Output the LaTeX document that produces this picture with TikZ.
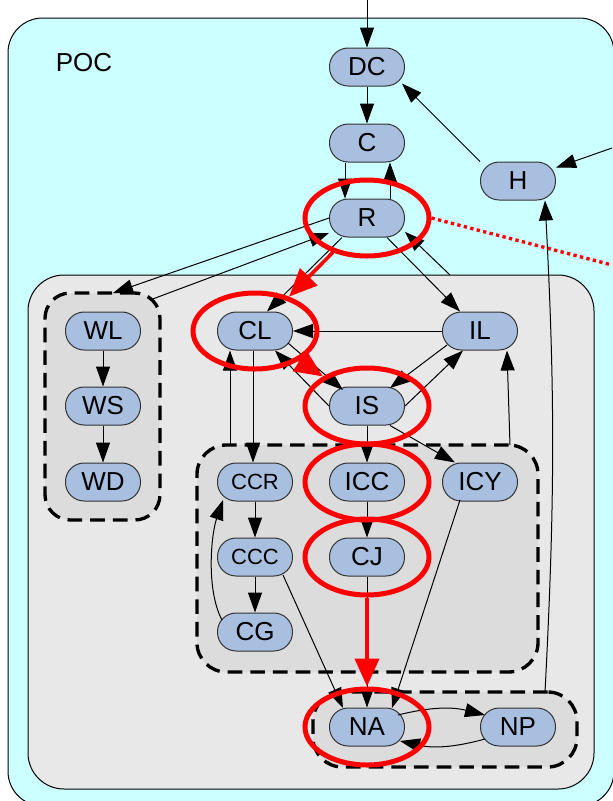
\documentclass[tikz,border=0pt]{standalone}
\usepackage{fontspec}
\setmainfont{Liberation Sans}
\usetikzlibrary{arrows.meta,shapes.geometric,calc}

\definecolor{pocbg}{RGB}{204,255,255}
\definecolor{outerbg}{RGB}{232,232,232}
\definecolor{grpbg}{RGB}{220,220,220}
\definecolor{nodebg}{RGB}{169,191,223}

\tikzset{
  state/.style={draw=black!80, line width=0.75pt, fill=nodebg, rounded corners=14pt,
    minimum width=56.25pt, minimum height=28.5pt, inner sep=0pt,
    font=\fontsize{19.5}{20}\selectfont},
  smalltext/.style={font=\fontsize{16.5}{17}\selectfont},
  edge/.style={line width=0.75pt, -{Triangle[length=15pt,width=10.5pt]}},
  grp/.style={draw, dashed, line width=2.5pt, dash pattern=on 11pt off 6pt,
    fill=grpbg, rounded corners=19pt, inner sep=0pt},
  hl/.style={draw=red, ellipse, line width=3.75pt, minimum width=93pt, minimum height=57pt, inner sep=0pt},
  hlarrow/.style={draw=red, line width=2.75pt, -{Triangle[length=21pt,width=18pt]}},
}

\begin{document}
\begin{tikzpicture}[x=0.75pt,y=-0.75pt]
\useasboundingbox (0,0) rectangle (612,801);

% containers
\draw[fill=pocbg, line width=0.75pt, rounded corners=26pt] (8,18) rectangle (614,806);
\node[anchor=center, font=\fontsize{19.5}{20}\selectfont] (poc) at (84,63) {POC};
\draw[fill=outerbg, line width=0.75pt, rounded corners=27pt] (28,275) rectangle (594,789);

% dashed groups
\node[grp, minimum width=86.25pt, minimum height=170.25pt] (gW) at (102.5,406.5) {};
\node[grp, minimum width=255.75pt, minimum height=170.25pt, rounded corners=22pt] (gC) at (367.5,558.5) {};
\node[grp, minimum width=198pt, minimum height=56.25pt, rounded corners=22pt] (gN) at (445,729.5) {};

% states
\node[state] (DC) at (367,67) {DC};
\node[state] (C) at (367,143) {C};
\node[state] (R) at (367,218) {R};
\node[state] (H) at (518,181) {H};
\node[state] (CL) at (255,331) {CL};
\node[state] (IL) at (480,331) {IL};
\node[state] (IS) at (367,406) {IS};
\node[state, smalltext] (CCR) at (255,482) {CCR};
\node[state] (ICC) at (367,482) {ICC};
\node[state] (ICY) at (480,482) {ICY};
\node[state, smalltext] (CCC) at (255,557) {CCC};
\node[state] (CJ) at (367,557) {CJ};
\node[state] (CG) at (255,632) {CG};
\node[state] (NA) at (367,727) {NA};
\node[state] (NP) at (518,727) {NP};
\node[state] (WL) at (103,331) {WL};
\node[state] (WS) at (103,406) {WS};
\node[state] (WD) at (103,482) {WD};

% loose ends
\coordinate (topin) at (367,0);
\coordinate (extH) at (612,148);
\coordinate (gWtop) at (113,293);
\coordinate (gWcorner) at (150,300);
\coordinate (grayTop) at (450,275);
\coordinate (gCleft) at (230,445);
\coordinate (gCright) at (510,445);
\coordinate (gNtop) at (545,692);
\coordinate (dotEnd) at (612,265);

% transitions
\draw[edge] (topin) -- (DC);
\draw[edge] (DC) -- (C);
\draw[edge] ($(C.south)+(-22,0)$) -- ($(R.north)+(-22,0)$);
\draw[edge] ($(R.north)+(23,0)$) -- ($(C.south)+(23,0)$);
\draw[edge] (extH) -- (H);
\draw[edge] (H.north west) -- ($(DC.south east)+(-3,-3)$);
\draw[edge] (gNtop) to[bend right=3] ($(H.south)+(27,0)$);

\draw[edge] (R.west) -- (gWtop);
\draw[edge] (gWcorner) -- ($(R.west)+(0,15)$);
\draw[edge] ($(R.south)+(20,0)$) -- ($(IL.north)+(-20,0)$);
\draw[edge] (grayTop) -- (R.-20);
\draw[edge] ($(R.south)+(-25,0)$) -- ($(CL.north)+(12,0)$);

\draw[edge] (IL) -- (CL);
\draw[edge] ($(IL)+(-33,14)$) -- ($(IS)+(23,-18)$);
\draw[edge] (IS.east) -- ($(IL.south)+(-17,0)$);
\draw[edge] ($(CL)+(33,12)$) -- ($(IS)+(-24,-16)$);
\draw[edge] (IS.west) -- ($(CL.south)+(20,0)$);

\draw[edge] (IS) -- (ICC);
\draw[edge] ($(IS.south)+(23,0)$) -- ($(ICY.north)+(-25,0)$);
\draw[edge] ($(CL.south)+(-2,0)$) -- ($(CCR.north)+(-2,0)$);
\draw[edge] (gCleft) -- ($(CL.south)+(-25,0)$);
\draw[edge] (gCright) -- ($(IL.south)+(27,0)$);

\draw[edge] (ICC) -- (CJ);
\draw[edge] (CCR) -- (CCC);
\draw[edge] (CCC) -- (CG);
\draw[edge] ($(CG)+(-33,-12)$) .. controls +(-16,-30) and +(-12,35) .. ($(CCR)+(-32,18)$);
\draw[edge] ($(CCC)+(28,18)$) -- ($(NA)+(-24,-19)$);
\draw[edge] ($(ICY)+(-20,18)$) -- ($(NA)+(25,-19)$);
\draw[edge] (CJ) -- (NA);
\draw[edge] ($(NA)+(31,-12)$) to[bend left=14] ($(NP)+(-33,-12)$);
\draw[edge] ($(NP)+(-33,12)$) to[bend left=14] ($(NA)+(33,14)$);

\draw[edge] (WL) -- (WS);
\draw[edge] (WS) -- (WD);

% highlighted path
\node[hl] (eR) at (R) {};
\node[hl] (eCL) at (CL) {};
\node[hl] (eIS) at (IS) {};
\node[hl] (eICC) at (ICC) {};
\node[hl] (eCJ) at (CJ) {};
\node[hl] (eNA) at (NA) {};

\draw[hlarrow] (eR) -- (eCL);
\draw[hlarrow] (eCL) -- (eIS);
\draw[hlarrow, line width=3pt] (eCJ.south) -- (eNA.north);
\draw[red, line width=2.5pt, dash pattern=on 2.5pt off 2.5pt] (eR.east) -- (dotEnd);

\end{tikzpicture}
\end{document}
